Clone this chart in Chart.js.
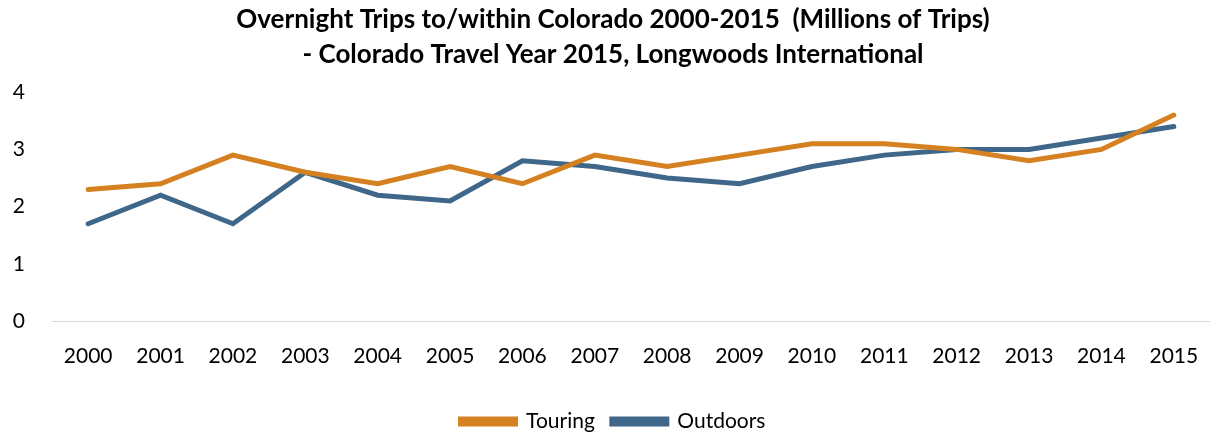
<!DOCTYPE html>
<html>
<head>
<meta charset="utf-8">
<script src="https://cdn.jsdelivr.net/npm/chart.js@4/dist/chart.umd.min.js"></script>
<style>
  html, body { margin: 0; padding: 0; background: #fff; }
  #wrap { width: 1210px; height: 434px; }
</style>
</head>
<body>
<div id="wrap"><canvas id="myChart"></canvas></div>
<script>
const years = ['2000', '2001', '2002', '2003', '2004', '2005', '2006', '2007',
    '2008', '2009', '2010', '2011', '2012', '2013', '2014', '2015'];
const touring = [2.3, 2.4, 2.9, 2.6, 2.4, 2.7, 2.4, 2.9, 2.7, 2.9, 3.1, 3.1, 3.0, 2.8, 3.0, 3.6];
const outdoors = [1.7, 2.2, 1.7, 2.6, 2.2, 2.1, 2.8, 2.7, 2.5, 2.4, 2.7, 2.9, 3.0, 3.0, 3.2, 3.4];
const yTicks = [0, 1, 2, 3, 4];
const titleLines = ['Overnight Trips to/within Colorado 2000-2015  (Millions of Trips)',
    '- Colorado Travel Year 2015, Longwoods International'];

const font = 'Lato, "Open Sans", sans-serif';

// nudge the legend a little lower than Chart.js puts it
const legendShift = {
    id: 'legendShift',
    afterLayout(chart) {
        chart.legend.top += 8;
        chart.legend.bottom += 8;
        chart.legend.legendHitBoxes.forEach(box => { box.top += 8; });
    }
};

const config = {
    type: 'line',
    data: {
        labels: years,
        datasets: [
            {
                label: 'Touring',
                data: touring,
                borderColor: '#D58021',
                backgroundColor: '#D58021',
                borderWidth: 5,
                pointRadius: 0,
                borderCapStyle: 'round',
                tension: 0
            },
            {
                label: 'Outdoors',
                data: outdoors,
                borderColor: '#3F6789',
                backgroundColor: '#3F6789',
                borderWidth: 5,
                pointRadius: 0,
                borderCapStyle: 'round',
                tension: 0
            }]
    },
    options: {
        responsive: true,
        maintainAspectRatio: false,
        animation: false,
        layout: {
            autoPadding: false,
            padding: {left: 12, right: -4, top: 2, bottom: 0}
        },
        plugins: {
            title: {
                display: true,
                text: titleLines,
                color: '#000',
                font: {family: font, size: 26, weight: 'bold', lineHeight: 1.35},
                padding: {top: 0, bottom: 20}
            },
            legend: {
                position: 'bottom',
                labels: {
                    color: '#000',
                    font: {family: font, size: 21},
                    boxWidth: 55,
                    boxHeight: 5,
                    padding: 17
                }
            },
            tooltip: {enabled: false}
        },
        scales: {
            x: {
                offset: true,
                grid: {display: false, drawTicks: false},
                border: {display: true, color: '#D9D9D9', width: 1},
                ticks: {color: '#000', font: {family: font, size: 21}, padding: 23, maxRotation: 0},
                afterFit: (axis) => {
                    axis.height = 65;
                    axis.paddingLeft = 0;
                    axis.paddingRight = 0;
                }
            },
            y: {
                min: 0,
                max: 4,
                afterBuildTicks: (axis) => { axis.ticks = yTicks.map(v => ({value: v})); },
                grid: {display: false, drawTicks: false},
                border: {display: false},
                ticks: {color: '#000', font: {family: font, size: 21}, padding: 27},
                afterFit: (axis) => { axis.width = 40; }
            }
        }
    },
    plugins: [legendShift]
};

const ctx = document.getElementById('myChart').getContext('2d');
new Chart(ctx, config);
</script>
</body>
</html>
